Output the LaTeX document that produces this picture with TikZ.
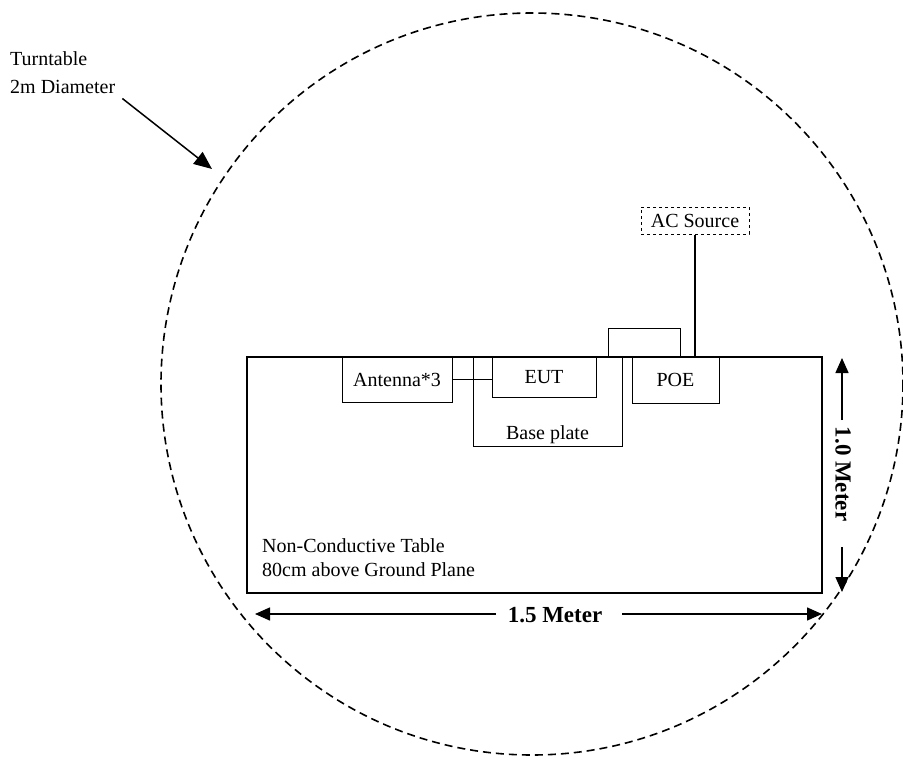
\documentclass[tikz,border=0pt]{standalone}
\usepackage{fontspec}
\setmainfont{Liberation Serif}
\usetikzlibrary{arrows.meta, positioning, calc}

\begin{document}
\begin{tikzpicture}[
  x=1pt, y=-1pt,
  txt/.style={font=\fontsize{20}{24}\selectfont, inner sep=0pt},
  box/.style={rectangle, draw, line width=1pt, inner sep=0pt,
    font=\fontsize{20}{24}\selectfont, align=center},
  tbl/.style={rectangle, draw, line width=2pt, inner sep=0pt},
  dimtxt/.style={font=\fontsize{23}{26}\selectfont\bfseries, inner sep=0pt},
  turn/.style={line width=1.6pt, dash pattern=on 8pt off 5pt},
  wire/.style={line width=1.1pt},
  ar/.style={-{Triangle[length=15pt, width=13pt]}, line width=1.5pt}
]
  \useasboundingbox (0,0) rectangle (903,760);
  % Turntable
  \draw[turn] (532,384) circle[radius=371];
  \node[txt, align=left, anchor=south west,
    font=\fontsize{20}{27.5}\selectfont] (ttlbl) at (10,93.5)
    {Turntable\\2m Diameter};
  \coordinate (tttip) at (212,169);
  % Devices on the table
  \node[box, minimum width=110pt, minimum height=45pt] (ant)
    at (397,379.5) {Antenna*3};
  \node[box, minimum width=149pt, minimum height=89pt] (plate)
    at (547.5,401.5) {};
  \node[txt, anchor=base] (platelbl) at ([yshift=7pt]plate.south)
    {Base plate};
  \node[box, minimum width=104pt, minimum height=40pt] (eut)
    at (544,377) {EUT};
  \node[box, minimum width=87pt, minimum height=46pt] (poe)
    at (675.5,380) {POE};
  \node[box, minimum width=72pt, minimum height=29pt] (plug)
    at (644,342.5) {};
  \node[box, dashed, minimum width=108pt, minimum height=27pt] (ac)
    at (695,220.5) {AC Source};
  \node[tbl, minimum width=575pt, minimum height=236pt] (table)
    at (534.5,475) {};
  \node[txt, align=left, anchor=south west] (tbllbl) at (262,577)
    {Non-Conductive Table\\80cm above Ground Plane};
  % Dimensions
  \node[dimtxt] (hlen) at (555,615) {1.5 Meter};
  \coordinate (hl) at (255,614);
  \coordinate (hlcut) at (496,614);
  \coordinate (hr) at (822,614);
  \coordinate (hrcut) at (622,614);
  \node[dimtxt, rotate=-90] (vlen) at (843,474) {1.0 Meter};
  \coordinate (vt) at (842,358);
  \coordinate (vtcut) at (842,420);
  \coordinate (vb) at (842,592);
  \coordinate (vbcut) at (842,547);
  % Arrows
  \draw[ar, -{Triangle[length=18pt, width=15pt]}]
    ([xshift=7pt, yshift=-5pt]ttlbl.south east) -- (tttip);
  \draw[wire] (ant.east) -- (ant.east -| eut.west);
  \draw[wire] (ac.south) -- (ac.south |- table.north);
  \draw[ar] (hlcut) -- (hl);
  \draw[ar] (hrcut) -- (hr);
  \draw[ar] (vtcut) -- (vt);
  \draw[ar] (vbcut) -- (vb);
\end{tikzpicture}
\end{document}
